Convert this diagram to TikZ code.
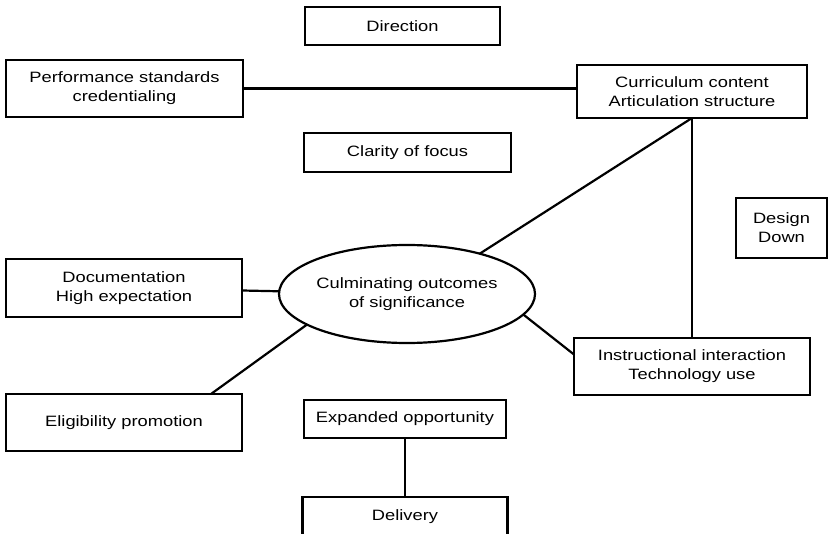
\documentclass[tikz,border=0pt]{standalone}
\usepackage{fontspec}
\setmainfont{Liberation Sans}[FakeStretch=1.22]
\usepackage{tikz}
\usetikzlibrary{positioning, shapes.geometric}
\tikzset{
		box nodes/.style={
			rectangle,
			draw=black,
			line width=2.2pt,
			align=center,
			inner sep=0pt,
			outer sep=0pt,
			font=\fontsize{15}{19}\selectfont
		},
		oval node/.style={
			box nodes,
			ellipse,
			minimum width=250pt,
			minimum height=98pt
		},
		link/.style={
			line width=2.2pt
		}
	}

\begin{document}
\begin{tikzpicture}[x=1pt, y=-1pt]
		\path[use as bounding box] (0,0) rectangle (829,534);
		\clip (0,0) rectangle (829,534);
		\node (dir) [box nodes, minimum width=195pt, minimum height=38pt] at (402.5,26) {Direction};
		\node (perf) [box nodes, minimum width=237pt, minimum height=57pt] at (124.5,88.5) {Performance standards\\credentialing};
		\node (curr) [box nodes, minimum width=230pt, minimum height=53pt] at (692,91.5) {Curriculum content\\Articulation structure};
		\node (clar) [box nodes, minimum width=207pt, minimum height=39pt] at (407.5,152.5) {Clarity of focus};
		\node (design) [box nodes, minimum width=91pt, minimum height=60pt] at (781.5,228) {Design\\Down};
		\node (doc) [box nodes, minimum width=236pt, minimum height=58pt] at (124,288) {Documentation\\High expectation};
		\node (core) [oval node] at (407,294) {Culminating outcomes\\of significance};
		\node (inst) [box nodes, minimum width=236pt, minimum height=57pt] at (692,366.5) {Instructional interaction\\Technology use};
		\node (elig) [box nodes, minimum width=236pt, minimum height=57pt] at (124,422.5) {Eligibility promotion};
		\node (expd) [box nodes, minimum width=202pt, minimum height=38pt] at (405,419) {Expanded opportunity};
		\node (deliv) [box nodes, minimum width=205pt, minimum height=40pt] at (405,517) {Delivery};
		%lines:
		\draw[link] (perf.east) -- (perf.east -| curr.west);
		\draw[link] (curr.south) -- (core.29);
		\draw[link] (curr.south) -- (inst.north);
		\draw[link] (doc) -- (core);
		\draw[link] (core.-10) -- ([yshift=12pt]inst.west);
		\draw[link] (core.197) -- ([xshift=-31pt]elig.north east);
		\draw[link] (expd) -- (deliv);

	\end{tikzpicture}
\end{document}
